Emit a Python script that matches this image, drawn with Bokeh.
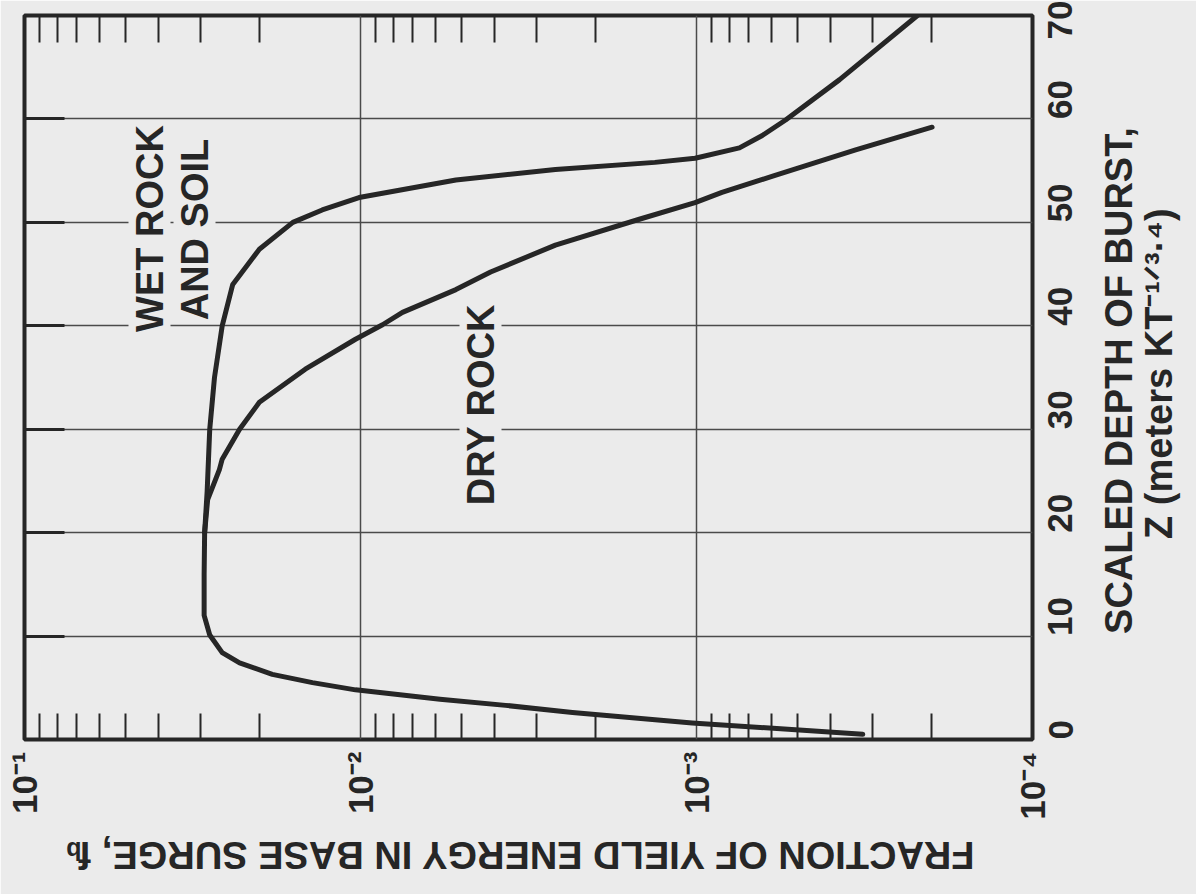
import math
from bokeh.plotting import figure
from bokeh.models import Range1d, FixedTicker, LogAxis, LinearAxis, Label
from bokeh.embed import file_html
from bokeh.resources import INLINE

# ---- data ----
wet_depth = [0.5, 1.6, 2.6, 3.3, 3.9, 4.8, 5.5, 6.3, 7.4, 8.4, 10.1, 12.0, 16.0, 20.0,
             24.0, 30.0, 35.0, 40.0, 44.0, 47.4, 50.0, 51.2, 52.4, 54.1, 55.1, 55.8,
             56.2, 57.2, 58.4, 59.9, 63.8, 70.0]
wet_frac = [0.00032, 0.00103, 0.00234, 0.0037, 0.0058, 0.01035, 0.0139, 0.0183, 0.0229,
            0.0258, 0.0281, 0.0292, 0.0292, 0.0291, 0.0286, 0.0281, 0.0272, 0.0258,
            0.0240, 0.0200, 0.0159, 0.0130, 0.0101, 0.0052, 0.00263, 0.00133, 0.00101,
            0.000745, 0.000637, 0.000543, 0.000375, 0.00022]

dry_depth = [20.0, 23.2, 26.1, 27.1, 30.0, 32.6, 35.8, 38.7, 40.1, 41.3, 43.5, 45.2,
             47.8, 50.3, 51.9, 52.9, 54.5, 57.0, 59.2]
dry_frac = [0.0291, 0.0285, 0.0263, 0.0258, 0.0229, 0.0200, 0.0146, 0.01035, 0.0086,
            0.0075, 0.0052, 0.0041, 0.00263, 0.00148, 0.00101, 0.00084, 0.00059,
            0.000336, 0.000199]

frac_ticks = [0.1, 0.01, 0.001, 0.0001]
frac_labels = ["10\u207b\u00b9", "10\u207b\u00b2", "10\u207b\u00b3", "10\u207b\u2074"]
depth_ticks = [0, 10, 20, 30, 40, 50, 60, 70]
depth_labels = ["0", "10", "20", "30", "40", "50", "60", "70"]

x_title = "FRACTION OF YIELD ENERGY IN BASE SURGE, f"
x_title_sub = "b"
y_title_1 = "SCALED DEPTH OF BURST,"
y_title_2 = "Z (meters KT\u207b\u00b9\u141f\u00b3\u00b7\u2074)"

# ---- styling ----
BG = "#ebebeb"
INK = "#262626"
FONT = "Liberation Sans"
NB = "\u00a0"

FL, FR, FT, FB = 32, 1040, 23, 747   # frame edges in page pixels

def fx(px):
    return 10 ** (-1 - (px - FL) / ((FR - FL) / 3.0))

def dy(py):
    return (FB - py) * 70.0 / (FB - FT)

minor = sorted({round(k * 10.0 ** (-d), 8) for d in (2, 3, 4) for k in range(2, 10)})

p = figure(frame_width=FR - FL, frame_height=FB - FT,
           x_axis_type="log", x_range=Range1d(0.1, 0.0001), y_range=Range1d(0, 70),
           y_axis_location="right", output_backend="svg", toolbar_location=None,
           min_border_left=FL - 8, min_border_top=FT - 8,
           min_border_right=1180 - (FR - 8), min_border_bottom=878 - (FB - 8),
           background_fill_color=BG, border_fill_color=BG,
           outline_line_color=INK, outline_line_width=4)

def set_orient(ax, angle):
    try:
        ax.axis_label_orientation = angle
    except Exception:
        pass

def set_align(ax, where):
    try:
        ax.axis_label_align = where
        return True
    except Exception:
        return False

def title_axis(cls, text, size, standoff, **kw):
    return cls(ticker=FixedTicker(ticks=[]), axis_line_color=None,
               major_tick_in=0, major_tick_out=0, minor_tick_in=0, minor_tick_out=0,
               major_label_standoff=0, axis_label=text,
               axis_label_text_font=FONT, axis_label_text_font_style="bold",
               axis_label_text_font_size=size, axis_label_text_color=INK,
               axis_label_standoff=standoff, **kw)

# bottom axis (tick labels + subscript of the title)
xa = p.xaxis[0]
xa.ticker = FixedTicker(ticks=frac_ticks, minor_ticks=minor)
xa.major_label_overrides = {t: l for t, l in zip(frac_ticks, frac_labels)}
xa.major_label_orientation = math.pi / 2
xa.major_label_text_font = FONT
xa.major_label_text_font_style = "bold"
xa.major_label_text_font_size = "35px"
xa.major_label_text_color = INK
xa.major_label_standoff = 12
xa.major_tick_in = 0
xa.major_tick_out = 0
xa.minor_tick_in = 26
xa.minor_tick_out = 0
xa.minor_tick_line_width = 2
xa.minor_tick_line_color = INK
xa.axis_line_color = None
xa.axis_label_text_font = FONT
xa.axis_label_text_font_style = "bold"
xa.axis_label_text_font_size = "25px"
xa.axis_label_text_color = INK
xa.axis_label_standoff = 28
set_orient(xa, math.pi)
ok_b = set_align(xa, "end")
xa.axis_label = x_title_sub + NB * 6 if ok_b else x_title_sub

# bottom title (main part), pulled up next to its subscript
xt = title_axis(LogAxis, "", "38px", -27)
set_orient(xt, math.pi)
ok_t = set_align(xt, "end")
xt.axis_label = x_title + NB * 5 if ok_t else x_title
p.add_layout(xt, "below")

# right axis
ya = p.yaxis[0]
ya.ticker = FixedTicker(ticks=depth_ticks)
ya.major_label_overrides = {t: l for t, l in zip(depth_ticks, depth_labels)}
ya.major_label_orientation = math.pi / 2
ya.major_label_text_font = FONT
ya.major_label_text_font_style = "bold"
ya.major_label_text_font_size = "35px"
ya.major_label_text_color = INK
ya.major_label_standoff = 28
ya.major_tick_in = 0
ya.major_tick_out = 0
ya.minor_tick_in = 0
ya.minor_tick_out = 0
ya.axis_line_color = None

# extra right "axes" carrying the two title lines
for txt, size, stand, pad in ((y_title_1, "38px", 31, 10), (y_title_2, "38px", -5, 19)):
    ax = title_axis(LinearAxis, "", size, stand)
    set_orient(ax, math.pi / 2)
    ok = set_align(ax, "start")
    ax.axis_label = NB * pad + txt if ok else txt
    p.add_layout(ax, "right")

# top axis: minor ticks only
top = LogAxis(ticker=FixedTicker(ticks=frac_ticks, minor_ticks=minor),
              major_label_text_font_size="1px", major_label_text_color=None,
              major_label_standoff=0,
              major_tick_in=0, major_tick_out=0,
              minor_tick_in=27, minor_tick_out=0, minor_tick_line_width=2,
              minor_tick_line_color=INK, axis_line_color=None)
p.add_layout(top, "above")

# left axis: short heavy stubs
left = LinearAxis(ticker=FixedTicker(ticks=depth_ticks),
                  major_label_text_font_size="1px", major_label_text_color=None,
                  major_label_standoff=0,
                  major_tick_in=40, major_tick_out=0, major_tick_line_width=3,
                  major_tick_line_color=INK,
                  minor_tick_in=0, minor_tick_out=0, axis_line_color=None)
p.add_layout(left, "left")

# grids
p.xgrid.ticker = FixedTicker(ticks=[0.01, 0.001])
p.ygrid.ticker = FixedTicker(ticks=depth_ticks[1:-1])
for g in (p.xgrid[0], p.ygrid[0]):
    g.grid_line_color = "#4a4a4a"
    g.grid_line_width = 1.5
    g.grid_line_alpha = 1.0

# curves
p.line(wet_frac, wet_depth, line_width=5, color=INK, line_join="round", line_cap="round")
p.line(dry_frac, dry_depth, line_width=5, color=INK, line_join="round", line_cap="round")

# in-plot labels
common = dict(text_font=FONT, text_font_style="bold", text_color=INK,
              background_fill_color=BG, text_align="center", text_baseline="middle",
              angle=math.pi / 2, text_font_size="38px")
p.add_layout(Label(x=fx(157), y=dy(236), text="WET ROCK", **common))
p.add_layout(Label(x=fx(202), y=dy(237), text="AND SOIL", **common))
p.add_layout(Label(x=fx(488), y=dy(412), text="DRY ROCK", **common))

open("out.html", "w").write(file_html(p, INLINE))
